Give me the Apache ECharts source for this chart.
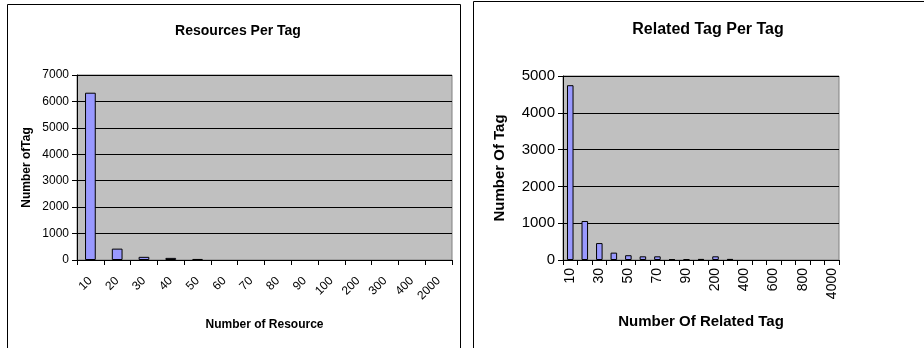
<!DOCTYPE html>
<html><head><meta charset="utf-8">
<script src="https://cdn.jsdelivr.net/npm/echarts@6/dist/echarts.min.js"></script>
<style>html,body{margin:0;padding:0;background:#fff}#c{width:924px;height:348px}</style>
</head><body><div id="c"></div>
<script>
const leftTitle = "Resources Per Tag";
const leftCategories = ["10","20","30","40","50","60","70","80","90","100","200","300","400","2000"];
const leftValues = [6330, 430, 120, 80, 40, null, null, null, null, null, null, null, null, null];
const leftYName = "Number ofTag";
const leftXName = "Number of Resource";

const rightTitle = "Related Tag Per Tag";
const rightCategories = ["10","20","30","40","50","60","70","80","90","100","200","300","400","500","600","700","800","900","4000"];
const rightValues = [4750, 1060, 460, 200, 130, 100, 100, 20, 20, 30, 100, 30, null, null, null, null, null, null, null];
const rightYName = "Number Of Tag";
const rightXName = "Number Of Related Tag";

const font = "Liberation Sans, Arial, sans-serif";
const chart = echarts.init(document.getElementById('c'));
function xAxis(idx, cats, name, fs, rot, gap, interval, margin){
  return {type:'category', gridIndex:idx, data:cats, name:name, nameLocation:'middle', nameGap:gap,
    nameTextStyle:{fontFamily:font, fontWeight:'bold', fontSize:fs.name, color:'#000'},
    axisLine:{lineStyle:{color:'#000', width:1}},
    axisTick:{show:true, alignWithLabel:false, interval:0, length:5, lineStyle:{color:'#000'}},
    axisLabel:{rotate:rot, interval:interval, fontFamily:font, fontSize:fs.label, color:'#000', margin:margin},
    splitLine:{show:false}};
}
function yAxis(idx, max, name, fs, gap){
  return {type:'value', gridIndex:idx, min:0, max:max, interval:1000, name:name, nameLocation:'middle', nameGap:gap,
    nameTextStyle:{fontFamily:font, fontWeight:'bold', fontSize:fs.name, color:'#000'},
    axisLine:{show:true, lineStyle:{color:'#000', width:1}},
    axisTick:{show:true, length:5, lineStyle:{color:'#000'}},
    axisLabel:{fontFamily:font, fontSize:fs.label, color:'#000', margin:8, formatter:v => String(v)},
    splitLine:{show:true, lineStyle:{color:'#000', width:1}}};
}
chart.setOption({
  animation:false,
  title:[
    {text:leftTitle, left:233, top:19, textAlign:'center', textStyle:{fontFamily:font, fontWeight:'bold', fontSize:14, color:'#000'}},
    {text:rightTitle, left:703, top:17, textAlign:'center', textStyle:{fontFamily:font, fontWeight:'bold', fontSize:16, color:'#000'}}
  ],
  graphic:[
    {type:'rect', shape:{x:7.5, y:4.5, width:453, height:360}, style:{fill:null, stroke:'#000', lineWidth:1}, silent:true},
    {type:'rect', shape:{x:473.5, y:1.5, width:460, height:360}, style:{fill:null, stroke:'#000', lineWidth:1}, silent:true}
  ],
  grid:[
    {left:77, top:75, width:375, height:185, show:true, backgroundColor:'#C0C0C0', borderColor:'#808080', borderWidth:1},
    {left:563, top:76, width:276, height:184, show:true, backgroundColor:'#C0C0C0', borderColor:'#808080', borderWidth:1}
  ],
  xAxis:[
    xAxis(0, leftCategories, leftXName, {name:12, label:12}, 45, 59, 0, 19),
    xAxis(1, rightCategories, rightXName, {name:15, label:14}, 90, 54, 1, 8)
  ],
  yAxis:[
    yAxis(0, 7000, leftYName, {name:12, label:12}, 44),
    yAxis(1, 5000, rightYName, {name:15, label:15}, 56)
  ],
  series:[
    {type:'bar', xAxisIndex:0, yAxisIndex:0, data:leftValues, barWidth:'40%',
     itemStyle:{color:'#9999FF', borderColor:'#000', borderWidth:1}},
    {type:'bar', xAxisIndex:1, yAxisIndex:1, data:rightValues, barWidth:'45%',
     itemStyle:{color:'#9999FF', borderColor:'#000', borderWidth:1}}
  ]
});
</script></body></html>
